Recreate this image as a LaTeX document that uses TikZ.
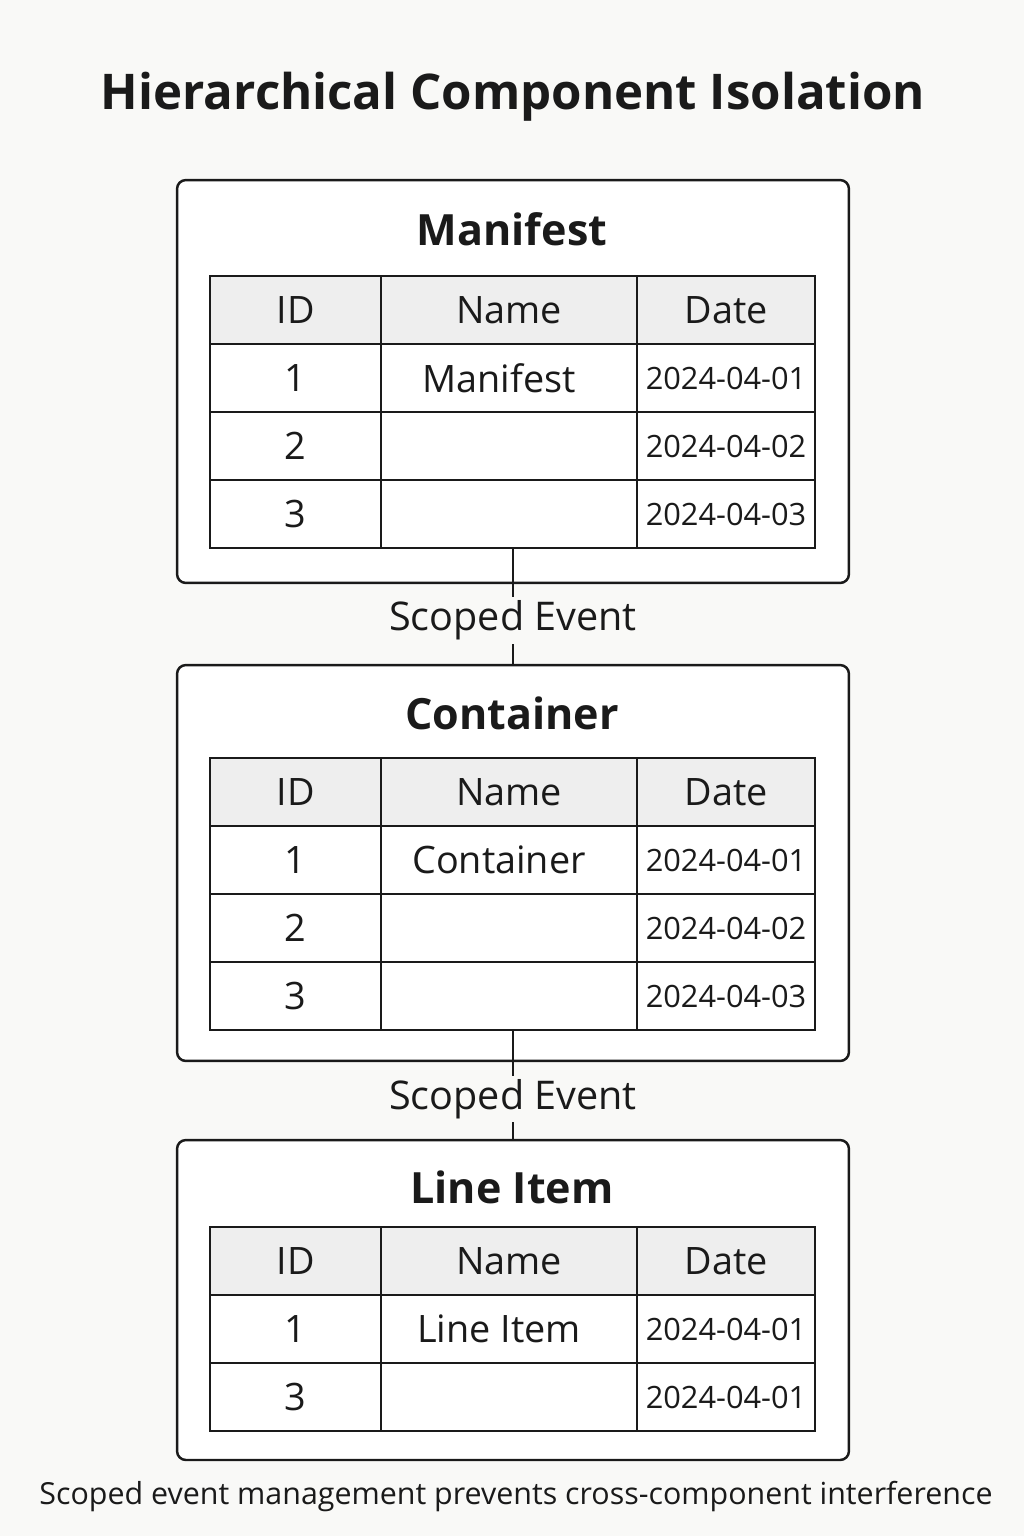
\documentclass[tikz,border=0pt]{standalone}
\usepackage{fontspec}
\setmainfont{Open Sans}
\usepackage{xcolor}
\usetikzlibrary{positioning}
\definecolor{paper}{HTML}{F9F9F7}
\definecolor{headgray}{HTML}{EEEEEE}
\definecolor{ink}{HTML}{1A1A1A}

% one table of a component: prefix, top edge (px), rows id/name/date
\newcommand{\comptable}[3]{%
  \node[hcell, minimum width=3.42cm] (#1-0-1) at (295.5,#2+34) {ID};
  \node[hcell, minimum width=5.12cm] (#1-0-2) at (509,#2+34) {Name};
  \node[hcell, minimum width=3.56cm] (#1-0-3) at (726,#2+34) {Date};
  \foreach \id/\nm/\dt [count=\i] in {#3} {
    \node[cell, minimum width=3.42cm] (#1-\i-1) at (295.5,{#2+34+68*\i}) {\id};
    \node[cell, minimum width=5.12cm] (#1-\i-2) at (509,{#2+34+68*\i}) {\hspace*{-0.4cm}\nm};
    \node[cell, minimum width=3.56cm, font=\fontsize{17.5}{20}\selectfont] (#1-\i-3) at (726,{#2+34+68*\i}) {\dt};
  }
}

\begin{document}
\begin{tikzpicture}[
    x=0.02cm, y=-0.02cm,
    cell/.style={rectangle, draw=ink, line width=1.6pt, fill=white, minimum height=1.36cm, inner sep=0pt, font=\fontsize{21.5}{25}\selectfont, text=ink},
    hcell/.style={cell, fill=headgray},
    compbox/.style={rectangle, rounded corners=5pt, draw=ink, line width=1.4pt, fill=white},
    boxtitle/.style={font=\fontsize{24.5}{28}\selectfont\bfseries, text=ink},
    link/.style={draw=ink, line width=1.4pt},
    linklabel/.style={fill=paper, inner sep=2pt, font=\fontsize{22.5}{26}\selectfont, text=ink}
]
\fill[paper] (0,0) rectangle (1024,1536);

% =====================
% Title
% =====================
\node[font=\fontsize{28}{32}\selectfont\bfseries, text=ink] (title) at (513,97) {Hierarchical Component Isolation};

% =====================
% Manifest
% =====================
\node[compbox, minimum width=13.44cm, minimum height=8.06cm] (mbox) at (513,381.5) {};
\node[boxtitle] (mtitle) at (512,229) {Manifest};
\comptable{m}{276}{1/Manifest/2024-04-01, 2//2024-04-02, 3//2024-04-03}

% =====================
% Container
% =====================
\node[compbox, minimum width=13.44cm, minimum height=7.92cm] (cbox) at (513,863) {};
\node[boxtitle] (ctitle) at (512,713) {Container};
\comptable{c}{758}{1/Container/2024-04-01, 2//2024-04-02, 3//2024-04-03}

% =====================
% Line Item
% =====================
\node[compbox, minimum width=13.44cm, minimum height=6.4cm] (lbox) at (513,1300) {};
\node[boxtitle] (ltitle) at (512,1187) {Line Item};
\comptable{l}{1227}{1/Line Item/2024-04-01, 3//2024-04-01}

% =====================
% Connectors
% =====================
\draw[link] (mbox.center |- m-3-2.south) -- node[linklabel, pos=0.62] {Scoped Event} (mbox.center |- cbox.north);
\draw[link] (cbox.center |- c-3-2.south) -- node[linklabel, pos=0.63] {Scoped Event} (cbox.center |- lbox.north);

% =====================
% Footer
% =====================
\node[font=\fontsize{17.3}{20}\selectfont, text=ink] (footer) at (516,1497) {Scoped event management prevents cross-component interference};
\end{tikzpicture}
\end{document}
